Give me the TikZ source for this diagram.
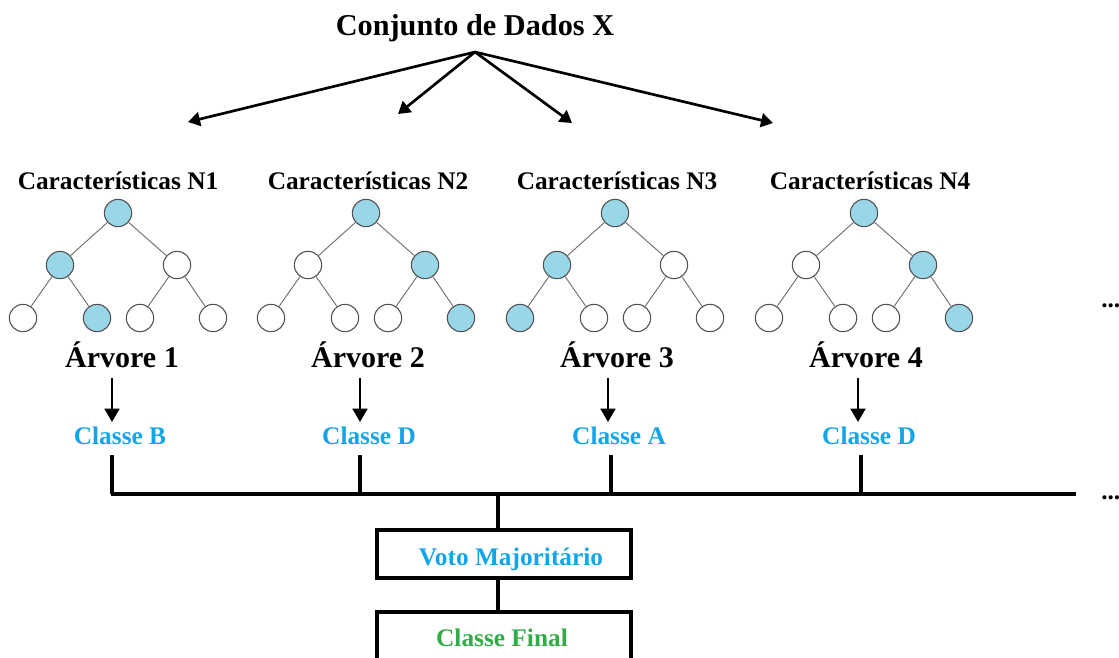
\documentclass[tikz,border=0pt]{standalone}
\usepackage{fontspec}
\setmainfont{Liberation Serif}
\usetikzlibrary{arrows.meta}
\definecolor{cblue}{RGB}{20,165,232}
\definecolor{cgreen}{RGB}{50,172,72}
\definecolor{nfill}{RGB}{152,214,232}
\definecolor{ngray}{RGB}{80,80,80}
\definecolor{egray}{RGB}{110,110,110}
\tikzset{
  tn/.style={circle,draw=ngray,line width=0.8pt,minimum size=20.5pt,inner sep=0pt},
  tf/.style={tn,fill=nfill},
  tw/.style={tn,fill=white},
  te/.style={draw=egray,line width=0.7pt},
  feat/.style={font=\fontsize{19}{19}\selectfont\bfseries,anchor=base,inner sep=0pt},
  arv/.style={font=\fontsize{22.5}{22.5}\selectfont\bfseries,anchor=base,inner sep=0pt},
  cls/.style={font=\fontsize{19}{19}\selectfont\bfseries,text=cblue,anchor=base,inner sep=0pt},
  bus/.style={line width=2.3pt},
  topar/.style={line width=2pt,-{Triangle[length=9pt,width=10.5pt]}},
  downar/.style={line width=2pt,-{Triangle[length=10pt,width=11pt]}},
  boxn/.style={draw,line width=2.3pt,minimum width=190.5pt,minimum height=36pt,inner sep=0pt},
}
\begin{document}
\begin{tikzpicture}[x=0.75pt,y=-0.75pt]
\useasboundingbox (0,0) rectangle (1119,657);
% title
\node[font=\fontsize{22.7}{22.7}\selectfont\bfseries,anchor=base,inner sep=0pt] (title) at (475,35) {Conjunto de Dados X};
\coordinate (src) at (475,52);
\coordinate (t1) at (188,122);
\coordinate (t2) at (398,114);
\coordinate (t3) at (572,123);
\coordinate (t4) at (773,123);
\foreach \t in {t1,t2,t3,t4} \draw[topar] (src) -- (\t);
% trees
\foreach \k/\dx/\lx/\ax/\cx/\cl/\ro/\L/\R/\LL/\LR/\RL/\RR in {
  1/0/118/122/120/B/tf/tf/tw/tw/tf/tw/tw,
  2/248/368/368/369/D/tf/tw/tf/tw/tw/tw/tf,
  3/497/617/617/619/A/tf/tf/tw/tf/tw/tw/tw,
  4/746/870/866/869/D/tf/tw/tf/tw/tw/tw/tf}{
  \node[feat] (f\k) at (\lx,189) {Características N\k};
  \node[\ro] (r\k) at (118+\dx,213) {};
  \node[\L] (l\k) at (60+\dx,265) {};
  \node[\R] (m\k) at (177+\dx,265) {};
  \node[\LL] (ll\k) at (23+\dx,318) {};
  \node[\LR] (lr\k) at (97+\dx,318) {};
  \node[\RL] (rl\k) at (140+\dx,318) {};
  \node[\RR] (rr\k) at (213+\dx,318) {};
  \draw[te] (r\k) -- (l\k) (r\k) -- (m\k) (l\k) -- (ll\k) (l\k) -- (lr\k) (m\k) -- (rl\k) (m\k) -- (rr\k);
  \node[arv] (a\k) at (\ax,367) {Árvore \k};
  \node[cls] (c\k) at (\cx,444) {Classe \cl};
}
% down arrows
\foreach \k/\x in {1/112,2/360,3/608,4/858}{
  \coordinate (as\k) at (\x,378);
  \coordinate (cn\k) at (\x,422);
  \draw[downar] (as\k) -- (cn\k);
}
% bus
\foreach \k/\x in {1/112,2/360,3/611,4/861}{
  \coordinate (cs\k) at (\x,455);
  \coordinate (bj\k) at (\x,494);
  \draw[bus] (cs\k) -- (bj\k);
}
\coordinate (bend) at (1076,494);
\draw[bus] ([xshift=-0.85pt]bj1) -- (bend);
\node[boxn] (vote) at (504,554) {};
\node[font=\fontsize{19}{19}\selectfont\bfseries,text=cblue,anchor=base,inner sep=0pt] (votet) at (511,565) {Voto Majoritário};
\node[boxn,minimum height=42pt] (fin) at (504,640) {};
\node[font=\fontsize{19}{19}\selectfont\bfseries,text=cgreen,anchor=base,inner sep=0pt] (fint) at (502,646) {Classe Final};
\coordinate (bmid) at (498,494);
\draw[bus] (bmid) -- (bmid |- vote.north);
\draw[bus] (bmid |- vote.south) -- (bmid |- fin.north);
% dots
\node[font=\fontsize{19}{19}\selectfont\bfseries,anchor=base west,inner sep=0pt] (d1) at (1101,307) {...};
\node[font=\fontsize{19}{19}\selectfont\bfseries,anchor=base west,inner sep=0pt] (d2) at (1101,499) {...};
\end{tikzpicture}
\end{document}
